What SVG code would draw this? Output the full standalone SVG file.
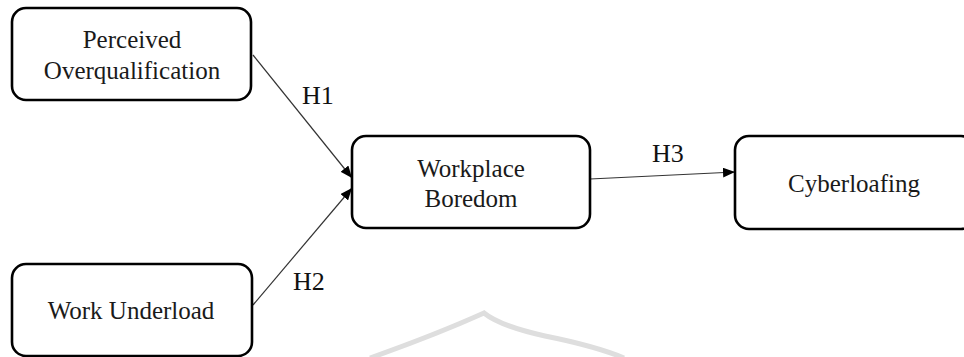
<svg xmlns="http://www.w3.org/2000/svg" width="964" height="357" viewBox="0 0 964 357">
<defs>
<marker id="arr" viewBox="0 0 12 10" refX="12" refY="5" markerWidth="12" markerHeight="10" markerUnits="userSpaceOnUse" orient="auto">
<path d="M0,0 L12,5 L0,10 Z" fill="#000"/>
</marker>
<style>
.box{fill:#fff;stroke:#000;stroke-width:2.6}
.t{font-family:'Liberation Serif','Times New Roman',serif;font-size:25px;fill:#1a1a1a;text-anchor:middle}
.h{font-family:'Liberation Serif','Times New Roman',serif;font-size:26px;fill:#111}
.c{stroke:#333;stroke-width:1.2;fill:none;marker-end:url(#arr)}
.wm{fill:none;stroke:#dedede;stroke-width:5}
</style>
</defs>
<rect width="964" height="357" fill="#fff"/>
<path class="wm" d="M370,358 Q435,335 484,313 Q500,326 545,336 Q595,346 624,358"/>
<g id="connectors">
<line class="c" x1="253" y1="55" x2="352" y2="178"/>
<line class="c" x1="253" y1="305" x2="352" y2="188"/>
<line class="c" x1="590" y1="179" x2="735" y2="172"/>
<text class="h" x="302" y="104">H1</text>
<text class="h" x="293" y="290">H2</text>
<text class="h" x="652" y="162">H3</text>
</g>
<g id="perceived-overqualification">
<rect class="box" x="12" y="8" width="239" height="92" rx="14"/>
<text class="t" x="132" y="48">Perceived</text>
<text class="t" x="132" y="79">Overqualification</text>
</g>
<g id="workplace-boredom">
<rect class="box" x="352" y="136" width="238" height="92" rx="14"/>
<text class="t" x="471" y="177">Workplace</text>
<text class="t" x="471" y="207">Boredom</text>
</g>
<g id="cyberloafing">
<rect class="box" x="735" y="136" width="240" height="93" rx="14"/>
<text class="t" x="854" y="192">Cyberloafing</text>
</g>
<g id="work-underload">
<rect class="box" x="12" y="264" width="240" height="92" rx="14"/>
<text class="t" x="131" y="319">Work Underload</text>
</g>
</svg>
